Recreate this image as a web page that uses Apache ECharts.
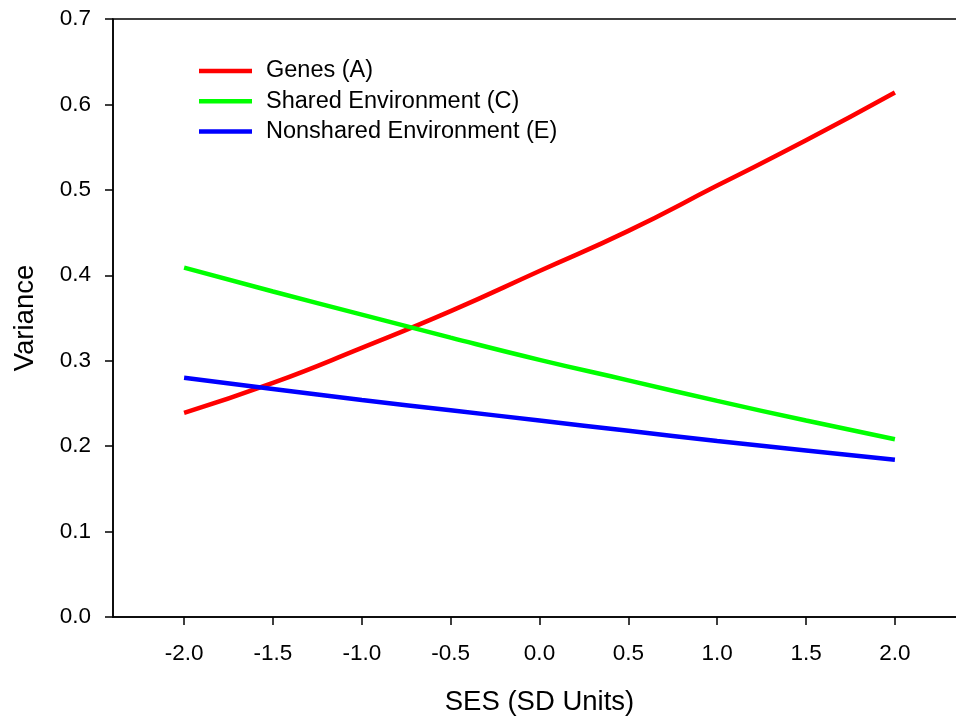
<!DOCTYPE html>
<html>
<head>
<meta charset="utf-8">
<script src="https://cdn.jsdelivr.net/npm/echarts@6/dist/echarts.min.js"></script>
<style>html,body{margin:0;padding:0;background:#fff;}#c{width:956px;height:717px;}</style>
</head>
<body>
<div id="c"></div>
<script>
const sesValues = [-2.0, -1.5, -1.0, -0.5, 0.0, 0.5, 1.0, 1.5, 2.0];
const genesA = [0.239, 0.274, 0.315, 0.358, 0.405, 0.452, 0.505, 0.558, 0.614];
const sharedC = [0.409, 0.381, 0.354, 0.327, 0.301, 0.277, 0.253, 0.230, 0.208];
const nonsharedE = [0.280, 0.267, 0.254, 0.242, 0.230, 0.218, 0.206, 0.195, 0.184];
const xTickValues = [-2.0, -1.5, -1.0, -0.5, 0.0, 0.5, 1.0, 1.5, 2.0];
const seriesNames = ['Genes (A)', 'Shared Environment (C)', 'Nonshared Environment (E)'];
const seriesColors = ['#ff0000', '#00ff00', '#0000ff'];

const font = 'Liberation Sans, Arial, sans-serif';
const chart = echarts.init(document.getElementById('c'));
const pairs = arr => sesValues.map((x, i) => [x, arr[i]]);
const allData = [genesA, sharedC, nonsharedE];

chart.setOption({
  animation: false,
  backgroundColor: '#fff',
  grid: {left: 113, top: 19, right: -10, bottom: 100, outerBoundsMode: 'none', containLabel: false,
    show: true, borderColor: '#000', borderWidth: 1.5, backgroundColor: 'transparent'},
  legend: {
    left: 199, top: 59, orient: 'vertical', padding: 0,
    icon: 'rect', itemWidth: 53, itemHeight: 4.5, itemGap: 6.2,
    data: seriesNames,
    textStyle: {fontFamily: font, fontSize: 23.5, color: '#000', lineHeight: 23, padding: [0, 0, 0, 9]}
  },
  xAxis: {
    type: 'value', min: -2.4, max: 2.4,
    name: 'SES (SD Units)', nameLocation: 'middle', nameGap: 71,
    nameTextStyle: {fontFamily: font, fontSize: 27.5, color: '#000'},
    axisLine: {show: true, onZero: false, lineStyle: {color: '#000', width: 1.5}},
    axisTick: {show: true, length: 8, lineStyle: {color: '#000', width: 1.5}, customValues: xTickValues},
    axisLabel: {fontFamily: font, fontSize: 22.5, color: '#000', margin: 25, customValues: xTickValues,
      formatter: v => v.toFixed(1)},
    splitLine: {show: false}
  },
  yAxis: {
    type: 'value', min: 0, max: 0.7, interval: 0.1,
    name: 'Variance', nameLocation: 'middle', nameGap: 74,
    nameTextStyle: {fontFamily: font, fontSize: 27.5, color: '#000'},
    axisLine: {show: true, onZero: false, lineStyle: {color: '#000', width: 1.5}},
    axisTick: {show: true, length: 8, lineStyle: {color: '#000', width: 1.5}},
    axisLabel: {fontFamily: font, fontSize: 22.5, color: '#000', margin: 22, formatter: v => v.toFixed(1)},
    splitLine: {show: false}
  },
  series: seriesNames.map((n, i) => ({
    name: n, type: 'line', data: pairs(allData[i]), smooth: true, showSymbol: false, symbol: 'none',
    lineStyle: {color: seriesColors[i], width: 4.5}, itemStyle: {color: seriesColors[i]}
  }))
});
</script>
</body>
</html>
